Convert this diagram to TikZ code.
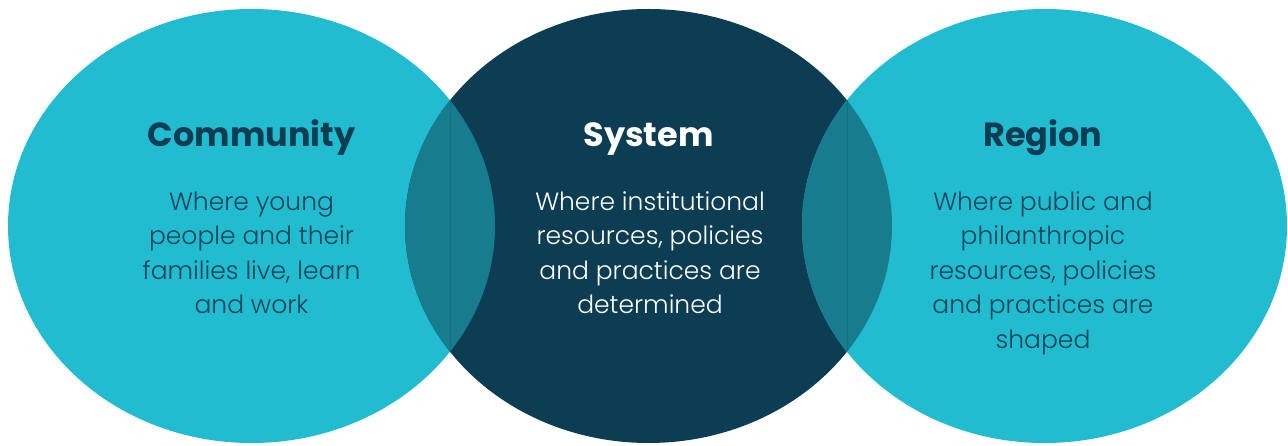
\documentclass[tikz,border=0pt]{standalone}
\usepackage{fontspec}
\setmainfont{Poppins}
\newfontfamily\bodyfont{Poppins Light}
\definecolor{cyanC}{HTML}{22BCD1}
\definecolor{darkC}{HTML}{0D3D52}
\definecolor{lensC}{HTML}{177C8E}
\definecolor{lensLine}{HTML}{127083}
\definecolor{txtC}{HTML}{134558}
\tikzset{
  titletxt/.style={font=\fontsize{33.5}{38}\selectfont\bfseries, anchor=base},
  bodytxt/.style={font=\fontsize{25}{34.5}\selectfont\bodyfont, align=center, anchor=base, inner sep=0pt},
}
\begin{document}
\begin{tikzpicture}[x=1pt,y=-1pt]
\useasboundingbox (0,0) rectangle (1288,446);
\fill[cyanC] (251.5,226) ellipse [x radius=243.5, y radius=217];
\fill[darkC] (648.5,226) ellipse [x radius=243.5, y radius=217];
\fill[cyanC] (1044.5,226) ellipse [x radius=242.5, y radius=217];
\begin{scope}
  \clip (251.5,226) ellipse [x radius=243.5, y radius=217];
  \fill[lensC] (648.5,226) ellipse [x radius=243.5, y radius=217];
\end{scope}
\begin{scope}
  \clip (1044.5,226) ellipse [x radius=242.5, y radius=217];
  \fill[lensC] (648.5,226) ellipse [x radius=243.5, y radius=217];
\end{scope}
\draw[lensLine, line width=0.6pt] (450,100.5) -- (450,351.5);
\draw[lensLine, line width=0.6pt] (847,100.5) -- (847,351.5);

\node[titletxt, text=darkC] (t1) at (251.5,146.5) {Community};
\node[titletxt, text=white] (t2) at (648.5,146.5) {System};
\node[titletxt, text=darkC] (t3) at (1043,146.5) {Region};

\node[bodytxt, text=txtC] (b1) at (251.5,314) {Where young\\people and their\\families live, learn\\and work};
\node[bodytxt, text=white] (b2) at (650,314) {Where institutional\\resources, policies\\and practices are\\determined};
\node[bodytxt, text=txtC] (b3) at (1043,348.5) {Where public and\\philanthropic\\resources, policies\\and practices are\\shaped};
\end{tikzpicture}
\end{document}
